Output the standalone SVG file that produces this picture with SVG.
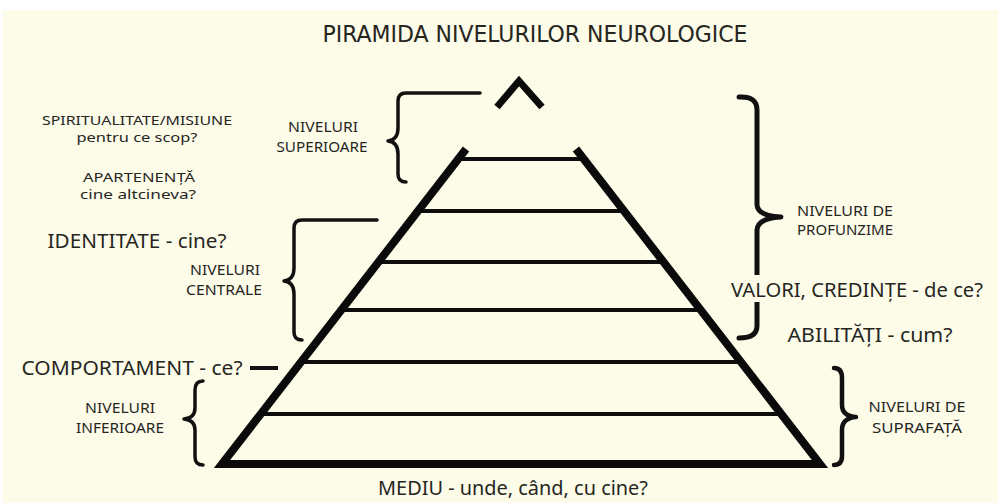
<svg xmlns="http://www.w3.org/2000/svg" width="998" height="503" viewBox="0 0 998 503">
<style>
.t{font-family:"Noto Sans","Open Sans","DejaVu Sans",sans-serif;fill:#26261f;text-anchor:middle}
.s{font-size:14px}
.xs{font-size:13px}
.l{font-size:20px}
.br{fill:none;stroke:#111;stroke-linecap:round;stroke-linejoin:round}
.h{stroke:#0d0d0d;stroke-width:4;fill:none}
</style>
<rect x="0" y="0" width="998" height="503" fill="#ffffff"/>
<rect x="3" y="10" width="995" height="493" fill="#fdfce9"/>
<text class="t" x="535" y="42" style="font-family:'DejaVu Sans Condensed','DejaVu Sans',sans-serif;font-stretch:condensed;font-size:23px" textLength="425" lengthAdjust="spacingAndGlyphs">PIRAMIDA NIVELURILOR NEUROLOGICE</text>

<g id="pyramid">
<line class="h" x1="458" y1="159" x2="584" y2="159"/>
<line class="h" x1="418" y1="211" x2="624" y2="211"/>
<line class="h" x1="378" y1="262" x2="664" y2="262"/>
<line class="h" x1="341" y1="310" x2="701" y2="310"/>
<line class="h" x1="301" y1="362" x2="741" y2="362"/>
<line class="h" x1="261" y1="414" x2="781" y2="414"/>
<path d="M466,149 L222,464 L820,464 L576,149" fill="none" stroke="#0a0a0a" stroke-width="8" stroke-linejoin="miter"/>
<polyline points="497,107 519,81 542,107" fill="none" stroke="#0a0a0a" stroke-width="7" stroke-linejoin="miter"/>
</g>

<g id="connectors">
<path class="br" stroke-width="3.5" d="M480,93 H406 Q398,93 398,101 V128 Q398,140 388,141 Q398,142 398,154 V174 Q398,182 406,182"/>
<path class="br" stroke-width="3.5" d="M377,220 H302 Q294,220 294,228 V268 Q294,280 284,281 Q294,282 294,294 V332 Q294,340 302,340"/>
<path class="br" stroke-width="3.5" d="M203,381 Q195,381 195,390 V408 Q195,418 184,419 Q195,420 195,430 V457 Q195,465 203,465"/>
<path class="br" stroke-width="5" d="M739,97 Q757,96 757,110 V205 Q758,216 781,217 Q758,218 757,230 V326 Q757,338 739,338"/>
<path class="br" stroke-width="4.5" d="M834,368 Q842,368 842,378 V405 Q842,416 856,417 Q842,418 842,430 V456 Q842,465 834,465"/>
<line x1="250" y1="368" x2="278" y2="368" stroke="#111" stroke-width="4"/>
</g>

<g id="spiritualitate">
<text class="t xs" x="137" y="125" textLength="190" lengthAdjust="spacingAndGlyphs">SPIRITUALITATE/MISIUNE</text>
<text class="t xs" x="137" y="142" textLength="121" lengthAdjust="spacingAndGlyphs">pentru ce scop?</text>
</g>
<g id="apartenenta">
<text class="t xs" x="139" y="182" textLength="112" lengthAdjust="spacingAndGlyphs">APARTENENȚĂ</text>
<text class="t xs" x="138" y="199" textLength="116" lengthAdjust="spacingAndGlyphs">cine altcineva?</text>
</g>
<g id="superioare">
<text class="t s" x="323" y="132" textLength="70" lengthAdjust="spacingAndGlyphs">NIVELURI</text>
<text class="t s" x="322" y="152" textLength="91" lengthAdjust="spacingAndGlyphs">SUPERIOARE</text>
</g>
<g id="identitate">
<text class="t l" x="137" y="248" textLength="179" lengthAdjust="spacingAndGlyphs">IDENTITATE - cine?</text>
</g>
<g id="centrale">
<text class="t s" x="225" y="275" textLength="70" lengthAdjust="spacingAndGlyphs">NIVELURI</text>
<text class="t s" x="224" y="295" textLength="76" lengthAdjust="spacingAndGlyphs">CENTRALE</text>
</g>
<g id="comportament">
<text class="t l" x="132" y="375" textLength="221" lengthAdjust="spacingAndGlyphs">COMPORTAMENT - ce?</text>
</g>
<g id="inferioare">
<text class="t s" x="120" y="413" textLength="70" lengthAdjust="spacingAndGlyphs">NIVELURI</text>
<text class="t s" x="120" y="433" textLength="88" lengthAdjust="spacingAndGlyphs">INFERIOARE</text>
</g>
<g id="profunzime">
<text class="t s" x="845" y="216" textLength="96" lengthAdjust="spacingAndGlyphs">NIVELURI DE</text>
<text class="t s" x="845" y="235" textLength="96" lengthAdjust="spacingAndGlyphs">PROFUNZIME</text>
</g>
<g id="valori">
<rect x="728" y="275" width="258" height="27" fill="#fdfce9"/>
<text class="t l" x="857" y="297" textLength="252" lengthAdjust="spacingAndGlyphs">VALORI, CREDINȚE - de ce?</text>
</g>
<g id="abilitati">
<text class="t l" x="870" y="342" textLength="165" lengthAdjust="spacingAndGlyphs">ABILITĂȚI - cum?</text>
</g>
<g id="suprafata">
<text class="t s" x="917" y="412" textLength="97" lengthAdjust="spacingAndGlyphs">NIVELURI DE</text>
<text class="t s" x="917" y="433" textLength="90" lengthAdjust="spacingAndGlyphs">SUPRAFAȚĂ</text>
</g>
<g id="mediu">
<text class="t l" x="513" y="495" textLength="270" lengthAdjust="spacingAndGlyphs">MEDIU - unde, când, cu cine?</text>
</g>
</svg>
